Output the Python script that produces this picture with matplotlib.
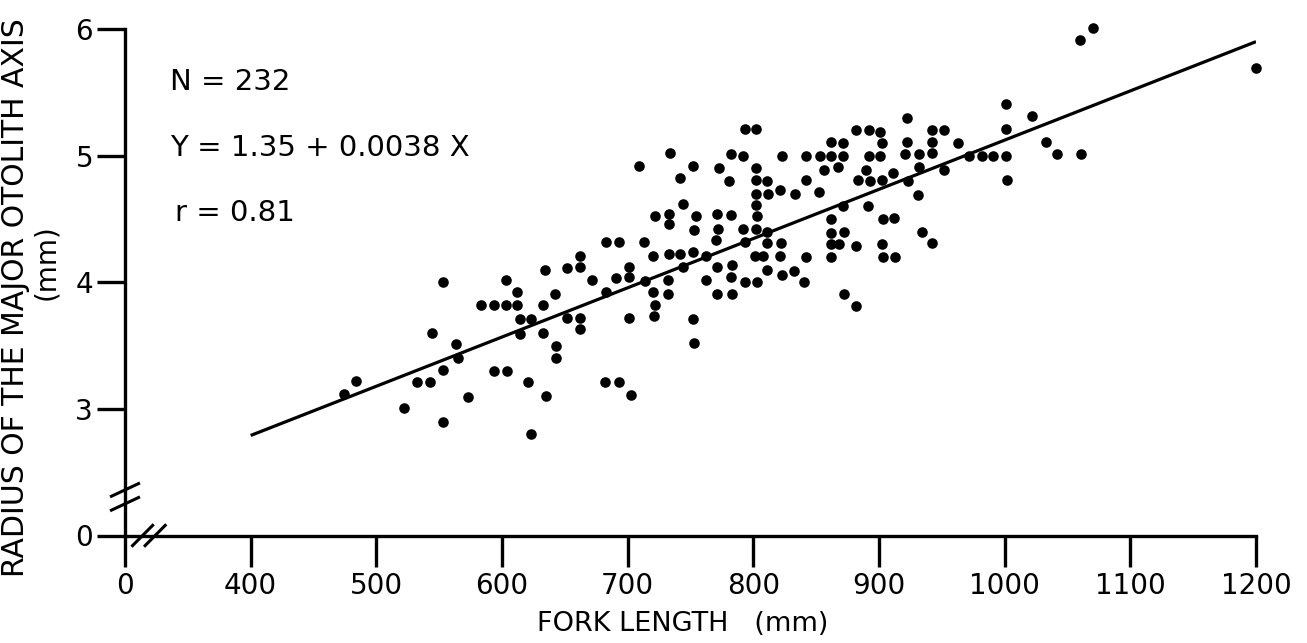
import matplotlib
matplotlib.use("Agg")
import matplotlib.pyplot as plt

# ---- data (fork length in mm, otolith radius in mm) ----
fork_length = [
    553, 603, 612, 583, 594, 603, 612, 614, 623, 544, 614, 563, 565, 553, 594, 604,
    484, 474, 532, 543, 621, 573, 522, 553, 623, 634, 633, 633, 635,
    683, 693, 713, 770, 793, 811, 822, 662, 720, 733, 742, 752, 762, 801, 808, 821,
    652, 662, 701, 744, 771, 783, 811, 823, 672, 691, 701, 714, 732, 762, 782, 793,
    803, 642, 683, 720, 732, 771, 783, 722, 652, 662, 701, 721, 752, 662, 643, 643,
    753, 682, 693, 703,
    793, 802, 734, 782, 792, 823, 709, 752, 773, 802, 742, 781, 802, 811, 821, 802,
    812, 833, 744, 802, 722, 733, 733, 754, 771, 782, 803, 772, 753, 792, 802, 811, 832,
    922, 882, 892, 901, 942, 952, 862, 871, 902, 922, 942, 963, 842, 853, 862, 871,
    892, 901, 921, 932, 942, 972, 982, 856, 867, 890, 932, 952, 842, 883, 893, 902,
    911, 923, 852, 931, 871, 891, 862, 903, 912, 862, 872, 934, 862, 868, 882, 902,
    942, 842, 862, 903, 913, 840, 872, 882,
    1070, 1060, 1200, 1001, 1022, 1001, 1033, 991, 1001, 1042, 1061, 1002,
]
radius = [
    4.00, 4.02, 3.92, 3.82, 3.82, 3.82, 3.82, 3.71, 3.71, 3.60, 3.59, 3.51, 3.40, 3.31, 3.30, 3.30,
    3.22, 3.12, 3.21, 3.21, 3.21, 3.09, 3.01, 2.90, 2.80, 4.10, 3.82, 3.60, 3.10,
    4.32, 4.32, 4.32, 4.33, 4.32, 4.31, 4.31, 4.21, 4.21, 4.22, 4.22, 4.24, 4.21, 4.21, 4.21, 4.21,
    4.11, 4.12, 4.12, 4.12, 4.12, 4.14, 4.10, 4.06, 4.02, 4.03, 4.04, 4.01, 4.02, 4.02, 4.04, 4.00,
    4.00, 3.91, 3.92, 3.92, 3.91, 3.91, 3.91, 3.82, 3.72, 3.72, 3.72, 3.73, 3.71, 3.63, 3.50, 3.40,
    3.52, 3.21, 3.21, 3.11,
    5.21, 5.21, 5.02, 5.01, 5.00, 5.00, 4.92, 4.92, 4.90, 4.90, 4.82, 4.80, 4.81, 4.80, 4.73, 4.70,
    4.70, 4.70, 4.62, 4.61, 4.52, 4.54, 4.46, 4.52, 4.54, 4.53, 4.52, 4.42, 4.41, 4.42, 4.42, 4.40, 4.09,
    5.30, 5.20, 5.20, 5.19, 5.20, 5.20, 5.11, 5.10, 5.10, 5.11, 5.11, 5.10, 5.00, 5.00, 5.00, 5.00,
    5.00, 5.00, 5.01, 5.01, 5.02, 5.00, 5.00, 4.89, 4.91, 4.89, 4.91, 4.89, 4.81, 4.81, 4.80, 4.81,
    4.86, 4.80, 4.71, 4.69, 4.60, 4.60, 4.50, 4.50, 4.51, 4.39, 4.40, 4.40, 4.30, 4.30, 4.29, 4.30,
    4.31, 4.20, 4.20, 4.20, 4.20, 4.00, 3.91, 3.81,
    6.01, 5.91, 5.69, 5.41, 5.31, 5.21, 5.11, 5.00, 5.00, 5.01, 5.01, 4.81,
]

# regression line as drawn in the reference
line_x = [400, 1200]
line_y = [2.79, 5.90]

# broken axes: the "0" labels sit one step below the first real tick
x_ticks = [300, 400, 500, 600, 700, 800, 900, 1000, 1100, 1200]
x_tick_labels = ["0", "400", "500", "600", "700", "800", "900", "1000", "1100", "1200"]
y_ticks = [2, 3, 4, 5, 6]
y_tick_labels = ["0", "3", "4", "5", "6"]

annotations = ["N = 232", "Y = 1.35 + 0.0038 X", "r = 0.81"]

W, H = 1307, 643
fig = plt.figure(figsize=(W / 100, H / 100), dpi=100)
x0, x1 = 125, 1256
y_top, y_bot = 29, 535.5
ax = fig.add_axes([x0 / W, (H - y_bot) / H, (x1 - x0) / W, (y_bot - y_top) / H])
ax.set_xlim(300, 1200)
ax.set_ylim(2, 6)

ax.scatter(fork_length, radius, s=58, c="black", linewidths=0, clip_on=False, zorder=3)
ax.plot(line_x, line_y, color="black", lw=2.3, solid_capstyle="butt", zorder=2)

for s in ["top", "right"]:
    ax.spines[s].set_visible(False)
for s in ["left", "bottom"]:
    ax.spines[s].set_linewidth(2.4)

ax.set_xticks(x_ticks, x_tick_labels)
ax.set_yticks(y_ticks, y_tick_labels)
ax.tick_params(axis="x", direction="out", length=22, width=2.4, labelsize=20, pad=4)
ax.tick_params(axis="y", direction="out", length=20, width=2.4, labelsize=20, pad=3)

# axis-break marks
for yb in (2.25, 2.36):
    ax.plot([-0.012, 0.012], [yb - 0.05, yb + 0.05], transform=ax.get_yaxis_transform(),
            color="black", lw=2.2, clip_on=False)
for xb in (314, 324):
    ax.plot([xb - 8, xb + 8], [-0.02, 0.02], transform=ax.get_xaxis_transform(),
            color="black", lw=2.2, clip_on=False)

# statistics text
for txt, tx, ty in zip(annotations, [170, 170, 175], [82, 148, 213]):
    fig.text(tx / W, 1 - ty / H, txt, fontsize=21, va="center", ha="left")

fig.text(683 / W, 1 - 624 / H, "FORK LENGTH   (mm)", fontsize=19.5, ha="center", va="center")
fig.text(16 / W, 1 - 298 / H, "RADIUS OF THE MAJOR OTOLITH AXIS", fontsize=21.5,
         rotation=90, ha="center", va="center")
fig.text(46 / W, 1 - 262 / H, "(mm)", fontsize=20, rotation=90, ha="center", va="center")

fig.savefig("out.png", dpi=100)
